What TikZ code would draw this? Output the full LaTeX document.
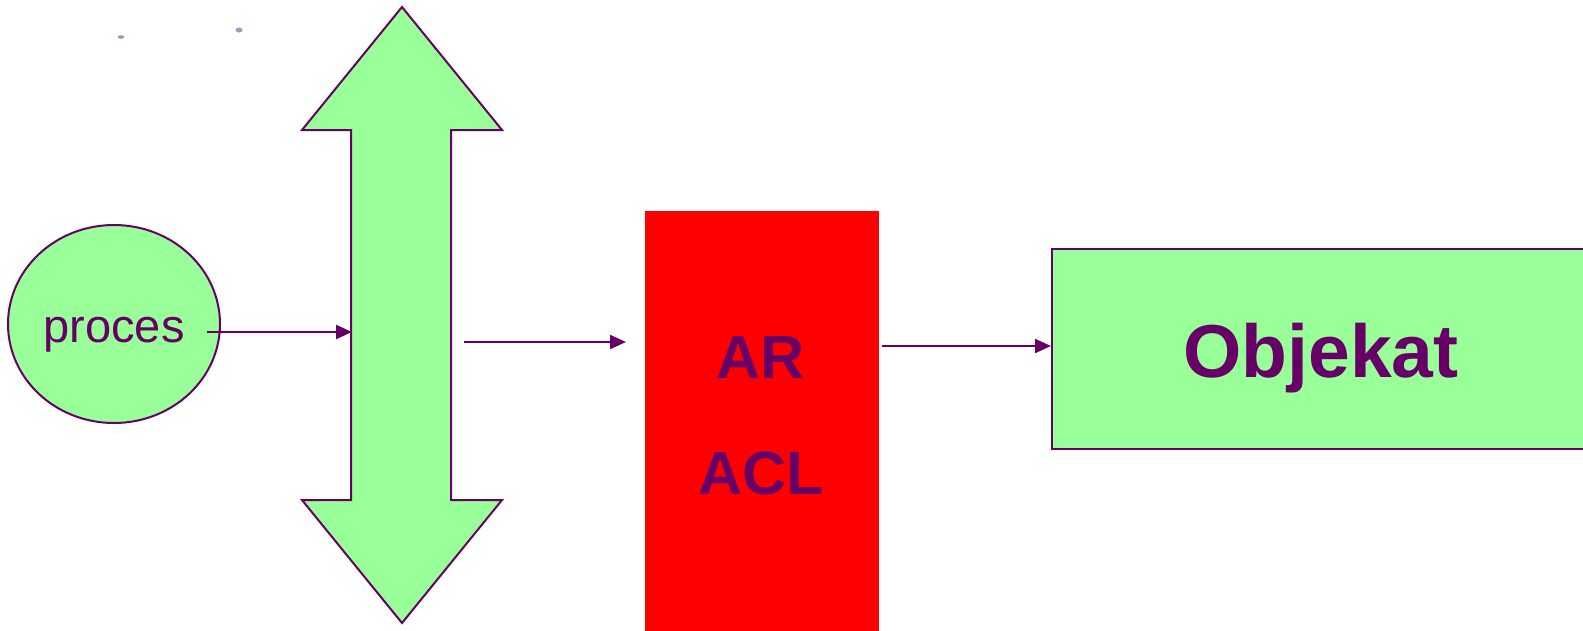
\documentclass[tikz,border=0pt]{standalone}
\usepackage{fontspec}
\setmainfont{Liberation Sans}
\usetikzlibrary{arrows.meta,shapes.geometric}
\definecolor{edge}{HTML}{660066}
\definecolor{lightgreen}{HTML}{99FF99}
\definecolor{speck}{HTML}{8FA4B8}
\tikzset{
  outline/.style={draw=edge, line width=2pt},
  link/.style={draw=edge, line width=2.2pt, -{Triangle[length=16pt,width=14pt]}},
  label/.style={text=edge, font=\bfseries\fontsize{61}{61}\selectfont, inner sep=0pt, anchor=base}
}
\begin{document}
\begin{tikzpicture}[x=1pt,y=-1pt]
\useasboundingbox (0,0) rectangle (1583,630);
% two small specks near the top
\fill[speck] (121,37) ellipse (3.5 and 1.8);
\fill[speck] (239,30) ellipse (3.5 and 2.5);
% process
\node[ellipse, outline, fill=lightgreen, minimum width=212pt, minimum height=198pt] (proc) at (114,324) {};
\node[text=edge, font=\fontsize{47}{47}\selectfont, inner sep=0pt, anchor=base] (proclabel) at (114,342) {proces};
% vertical double arrow (bus)
\path[outline, fill=lightgreen] (402,7) -- (502,130) -- (451,130) -- (451,500) -- (502,500)
  -- (402,623) -- (302,500) -- (351,500) -- (351,130) -- (302,130) -- cycle;
\coordinate (busin) at (352,332);
\coordinate (busout) at (464,342);
% access control block
\node[fill=red, minimum width=234pt, minimum height=440pt, anchor=north west, inner sep=0pt] (ar) at (645,211) {};
\node[label] (arlabel) at (761,378) {AR};
\node[label] (acllabel) at (761,494) {ACL};
% object
\node[outline, fill=lightgreen, minimum width=560pt, minimum height=200pt, anchor=north west, inner sep=0pt] (obj) at (1051,248) {};
\node[label, font=\bfseries\fontsize{75}{75}\selectfont] (objlabel) at (1321,377) {Objekat};
% connectors
\coordinate (procout) at (207,332);
\coordinate (arin) at (626,342);
\coordinate (arout) at (882,346);
\draw[link] (procout) -- (busin);
\draw[link] (busout) -- (arin);
\draw[link] (arout) -- (obj.west |- arout);
\end{tikzpicture}
\end{document}
